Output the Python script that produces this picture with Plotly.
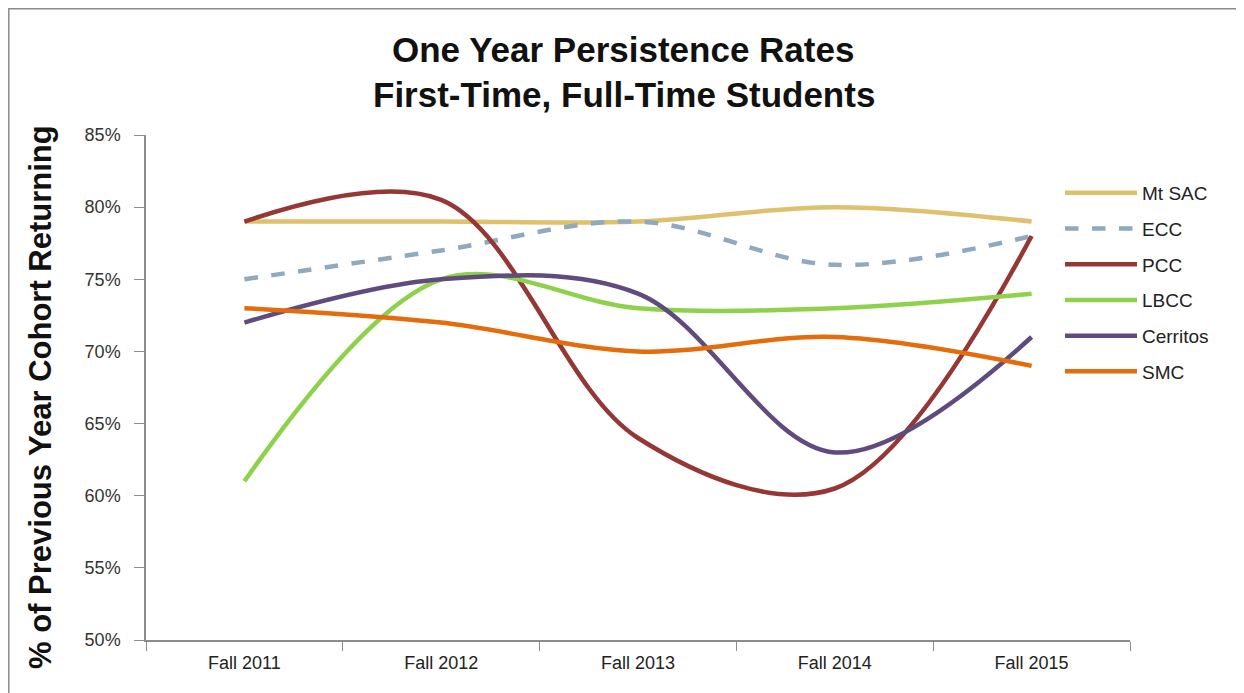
import plotly.graph_objects as go

categories = ["Fall 2011", "Fall 2012", "Fall 2013", "Fall 2014", "Fall 2015"]
mt_sac = [0.79, 0.79, 0.79, 0.80, 0.79]
ecc = [0.75, 0.77, 0.79, 0.76, 0.78]
pcc = [0.79, 0.805, 0.64, 0.605, 0.78]
lbcc = [0.61, 0.75, 0.73, 0.73, 0.74]
cerritos = [0.72, 0.75, 0.74, 0.63, 0.71]
smc = [0.73, 0.72, 0.70, 0.71, 0.69]

y_ticks = [0.50, 0.55, 0.60, 0.65, 0.70, 0.75, 0.80, 0.85]

title_lines = ["One Year Persistence Rates", "First-Time, Full-Time Students"]
y_title = "% of Previous Year Cohort Returning"

series = [
    ("Mt SAC", mt_sac, "#DFC06C", "solid"),
    ("ECC", ecc, "#8FA9BF", "dash"),
    ("PCC", pcc, "#953735", "solid"),
    ("LBCC", lbcc, "#8ED14B", "solid"),
    ("Cerritos", cerritos, "#5F4B7E", "solid"),
    ("SMC", smc, "#E46C0A", "solid"),
]

label_font = "Gill Sans, Liberation Sans Narrow, Arial Narrow, Liberation Sans, sans-serif"

fig = go.Figure()
for i, (name, vals, color, dash) in enumerate(series):
    fig.add_trace(go.Scatter(
        x=categories, y=vals, name=name, mode="lines",
        line=dict(color=color, width=4.5, dash=dash, shape="spline", smoothing=1.0),
        legendgroup=f"g{i}",
    ))

# page is offset by the 8px body margin
OFF = 8
W, H = 1244 - OFF, 693 - OFF
PL, PR, PT, PB = 146, 1130, 135, 640   # plot area in page pixels
L, R, T, B = PL - OFF, PR - OFF, PT - OFF, PB - OFF

def px(x):
    return (x - PL) / (PR - PL)

def py(y):
    return (PB - y) / (PB - PT)

annotations = [
    dict(text=f"<b>{title_lines[0]}</b>", x=px(623), y=py(49), xref="paper", yref="paper",
         showarrow=False, xanchor="center", yanchor="middle",
         font=dict(family=label_font, size=35, color="#111111")),
    dict(text=f"<b>{title_lines[1]}</b>", x=px(624), y=py(95), xref="paper", yref="paper",
         showarrow=False, xanchor="center", yanchor="middle",
         font=dict(family=label_font, size=35, color="#111111")),
    dict(text=f"<b>{y_title}</b>", x=px(40), y=py(397), xref="paper", yref="paper",
         textangle=-90, showarrow=False, xanchor="center", yanchor="middle",
         font=dict(family=label_font, size=31, color="#111111")),
]

fig.update_layout(
    width=W, height=H,
    margin=dict(l=L, r=W - R, t=T, b=H - B),
    paper_bgcolor="white", plot_bgcolor="white",
    showlegend=True,
    legend=dict(
        x=px(1060), y=py(174), xanchor="left", yanchor="top",
        font=dict(family=label_font, size=19, color="#222222"),
        tracegroupgap=8, itemwidth=72, bgcolor="rgba(0,0,0,0)",
    ),
    xaxis=dict(
        type="category", range=[-0.5, 4.5],
        showline=True, linecolor="#8C8C8C", linewidth=1.5,
        ticks="outside", tickson="boundaries", ticklen=9, tickcolor="#8C8C8C",
        ticklabelstandoff=6,
        tickfont=dict(family=label_font, size=18, color="#222222"),
        showgrid=False, zeroline=False,
    ),
    yaxis=dict(
        range=[0.50, 0.85], tickvals=y_ticks, tickformat=".0%",
        showline=True, linecolor="#8C8C8C", linewidth=1.5,
        ticks="outside", ticklen=10, tickcolor="#8C8C8C",
        ticklabelstandoff=10,
        tickfont=dict(family=label_font, size=18, color="#333333"),
        showgrid=False, zeroline=False,
    ),
    annotations=annotations,
    shapes=[dict(
        type="rect", xref="paper", yref="paper",
        x0=px(8.8), x1=px(1241), y0=py(705), y1=py(8.8),
        line=dict(color="#8C8C8C", width=1.5), fillcolor="rgba(0,0,0,0)",
        layer="below",
    )],
)

fig.write_html("out.html")
